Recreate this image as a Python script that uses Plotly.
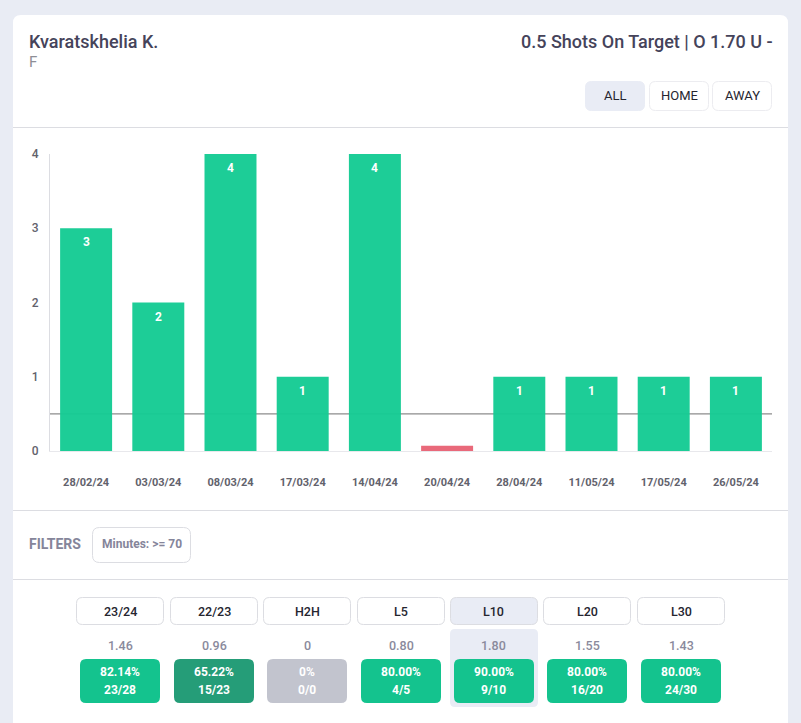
import plotly.graph_objects as go

W, H = 801, 723

# chart data
dates = ["28/02/24", "03/03/24", "08/03/24", "17/03/24", "14/04/24",
         "20/04/24", "28/04/24", "11/05/24", "17/05/24", "26/05/24"]
shots = [3, 2, 4, 1, 4, 0.07, 1, 1, 1, 1]
shot_labels = ["3", "2", "4", "1", "4", "", "1", "1", "1", "1"]
bar_colors = ["ok", "ok", "ok", "ok", "ok", "miss", "ok", "ok", "ok", "ok"]
line_value = 0.5
y_ticks = [0, 1, 2, 3, 4]

# table under the chart
tabs = ["23/24", "22/23", "H2H", "L5", "L10", "L20", "L30"]
averages = ["1.46", "0.96", "0", "0.80", "1.80", "1.55", "1.43"]
percents = ["82.14%", "65.22%", "0%", "80.00%", "90.00%", "80.00%", "80.00%"]
ratios = ["23/28", "15/23", "0/0", "4/5", "9/10", "16/20", "24/30"]
box_kinds = ["good", "mid", "none", "good", "good", "good", "good"]
active_tab = "L10"

side_buttons = ["ALL", "HOME", "AWAY"]

# pixel layout
tab_left = [76, 170, 263, 357, 450, 543, 637]
side_left = [585, 649, 712]

PAGE = "#e9ecf4"
ACTIVE = "#e9ecf5"
DIVIDER = "#dcdde2"
BAR_FILL = {"ok": "rgba(22,203,148,0.97)", "miss": "rgba(232,100,118,0.97)"}
BOX_FILL = {"good": "#14c38e", "mid": "#259d78", "none": "#c2c4ce"}
FONT = "Roboto"


def px(x):
    return x / W


def py(y):
    return 1 - y / H


def round_rect(x0, y0, x1, y1, r, fill, line=None, top_only=False):
    # rounded box in pixel coords, drawn on paper
    rb = 0 if top_only else r
    p = (f"M {px(x0 + r)} {py(y0)} L {px(x1 - r)} {py(y0)} "
         f"Q {px(x1)} {py(y0)} {px(x1)} {py(y0 + r)} "
         f"L {px(x1)} {py(y1 - rb)} Q {px(x1)} {py(y1)} {px(x1 - rb)} {py(y1)} "
         f"L {px(x0 + rb)} {py(y1)} Q {px(x0)} {py(y1)} {px(x0)} {py(y1 - rb)} "
         f"L {px(x0)} {py(y0 + r)} Q {px(x0)} {py(y0)} {px(x0 + r)} {py(y0)} Z")
    return dict(type="path", path=p, xref="paper", yref="paper", layer="below",
                fillcolor=fill, line=dict(color=line or fill, width=1 if line else 0))


def hline(y, x0, x1, color):
    return dict(type="line", xref="paper", yref="paper", layer="below",
                x0=px(x0), x1=px(x1), y0=py(y), y1=py(y), line=dict(color=color, width=1))


def label(x, y, text, size, color, anchor="center", weight=400):
    return dict(x=px(x), y=py(y), xref="paper", yref="paper", text=text, showarrow=False,
                xanchor=anchor, yanchor="middle", align=anchor,
                font=dict(family=FONT, size=size, color=color, weight=weight))


shapes = [
    round_rect(13, 15, 788, 740, 8, "#ffffff", top_only=True),
    hline(127.5, 13, 788, DIVIDER),
    hline(510.5, 13, 788, DIVIDER),
    hline(579.5, 13, 788, DIVIDER),
    round_rect(92.5, 527.5, 190.5, 562.5, 7, "#ffffff", "#dcdde2"),
    # over/under line, sits behind the bars
    dict(type="line", xref="paper", yref="y", layer="below", x0=px(50), x1=px(772),
         y0=line_value, y1=line_value, line=dict(color="#8c8c8c", width=1.3)),
]

annotations = [
    label(27, 41, "Kvaratskhelia K.", 18, "#45435a", "left", 500),
    label(27, 62, "F", 15, "#8e8e96", "left"),
    label(775, 41, "0.5 Shots On Target | O 1.70 U -", 18, "#45435a", "right", 500),
    label(27, 544, "FILTERS", 14, "#85859a", "left", 700),
    label(141.5, 544, "Minutes: >= 70", 12, "#85859a", "center", 700),
]

for name, left in zip(side_buttons, side_left):
    active = name == "ALL"
    shapes.append(round_rect(left + 0.5, 81.5, left + 59.5, 110.5, 6,
                             ACTIVE if active else "#ffffff", ACTIVE if active else "#ececf0"))
    annotations.append(label(left + 30, 96, name, 13, "#25252f"))

for i, tab in enumerate(tabs):
    left = tab_left[i]
    active = tab == active_tab
    if active:
        shapes.append(round_rect(left, 629, left + 88, 707, 5, ACTIVE))
    shapes.append(round_rect(left + 0.5, 597.5, left + 87.5, 624.5, 6,
                             ACTIVE if active else "#ffffff", "#dcdde2"))
    shapes.append(round_rect(left + 4, 659, left + 84, 703, 6, BOX_FILL[box_kinds[i]]))
    annotations.append(label(left + 44, 611, tab, 12.5, "#25252f", "center", 500))
    annotations.append(label(left + 44, 645.5, averages[i], 12.5, "#8a8a9c", "center", 500))
    annotations.append(label(left + 44, 672, percents[i], 12, "#ffffff", "center", 700))
    annotations.append(label(left + 44, 689.5, ratios[i], 12, "#ffffff", "center", 700))

# value labels inside the bars
for d, v, t in zip(dates, shots, shot_labels):
    if t:
        annotations.append(dict(x=d, y=v, xref="x", yref="y", yshift=-14, text=t, showarrow=False,
                                font=dict(family=FONT, size=12, color="#ffffff", weight=700)))

fig = go.Figure(go.Bar(
    x=dates, y=shots,
    marker=dict(color=[BAR_FILL[c] for c in bar_colors], line=dict(width=0)),
    hovertemplate="%{x}: %{y}<extra></extra>",
))

fig.update_layout(
    width=W, height=H, autosize=False,
    margin=dict(l=0, r=0, t=0, b=0, pad=0),
    paper_bgcolor=PAGE, plot_bgcolor="rgba(0,0,0,0)",
    showlegend=False, bargap=0.28,
    font=dict(family=FONT),
    shapes=shapes, annotations=annotations,
    xaxis=dict(domain=[px(50), px(772)], type="category", range=[-0.5, 9.5], automargin=False,
               showgrid=False, zeroline=False, showline=True, linecolor="#e8e8ec", linewidth=1,
               ticks="", ticklabelstandoff=21, fixedrange=True,
               tickfont=dict(family=FONT, size=11, color="#62626c", weight=700)),
    yaxis=dict(domain=[py(451), py(154)], range=[0, 4], automargin=False,
               tickvals=y_ticks, showgrid=False, zeroline=False, showline=True,
               linecolor="#dcdde2", linewidth=1, ticks="", ticklabelstandoff=8, fixedrange=True,
               tickfont=dict(family=FONT, size=12, color="#62626c", weight=500)),
)

fig.write_html("out.html", config={"displayModeBar": False},
               post_script="document.body.style.margin='0';document.body.style.overflow='hidden';")
